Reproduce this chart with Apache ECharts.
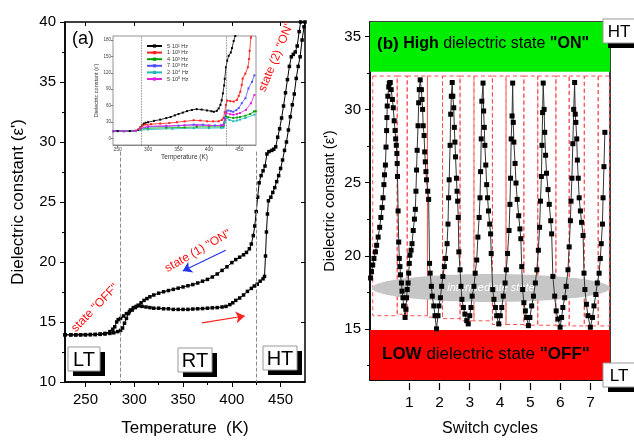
<!DOCTYPE html>
<html>
<head>
<meta charset="utf-8">
<script src="https://cdn.jsdelivr.net/npm/echarts@6/dist/echarts.min.js"></script>
<style>
  html, body { margin: 0; padding: 0; background: #fff; }
  #chart { width: 634px; height: 442px; }
</style>
</head>
<body>
<div id="chart"></div>
<script>
const FONT = 'Liberation Sans'

// (a) temperature sweep, heating and cooling
const heating = [[229, 13.93], [235, 13.93], [240, 13.93], [245, 13.93], [250, 13.93], [255, 13.95], [260, 13.95], [265, 13.97], [270, 14.0], [275, 14.05], [279, 14.1], [283, 14.2], [286, 14.3], [288, 14.5], [290, 14.9], [292, 15.3], [294, 15.7], [296, 16.0], [299, 16.2], [302, 16.3], [305, 16.35], [308, 16.3], [312, 16.25], [316, 16.2], [320, 16.15], [325, 16.15], [330, 16.1], [335, 16.1], [340, 16.05], [345, 16.05], [350, 16.05], [355, 16.05], [360, 16.08], [365, 16.1], [370, 16.12], [375, 16.15], [380, 16.18], [385, 16.2], [390, 16.25], [394, 16.3], [398, 16.45], [401, 16.6], [404, 16.8], [408, 17.0], [412, 17.25], [416, 17.55], [420, 17.8], [423, 18.0], [426, 18.15], [429, 18.4], [432, 18.6], [433.5, 18.8], [434.5, 20.5], [435.5, 22.5], [436.5, 24.0], [437.5, 25.1], [440, 25.4], [442, 25.8], [444, 26.2], [446, 26.7], [448, 27.2], [450, 27.8], [452, 28.5], [454, 29.3], [456, 30.0], [458, 31.0], [460, 32.1], [462, 33.1], [464, 34.0], [466, 35.3], [468, 36.3], [470, 37.1], [472, 38.5], [474, 39.6], [475, 40]]
const cooling = [[229, 13.93], [235, 13.93], [240, 13.93], [245, 13.94], [250, 13.95], [255, 13.95], [260, 13.97], [265, 14.0], [270, 14.05], [275, 14.2], [278, 14.4], [280, 14.6], [282, 15.0], [283.5, 15.2], [286, 15.3], [289, 15.5], [292, 15.7], [295, 15.85], [298, 16.0], [301, 16.2], [304, 16.4], [307, 16.6], [310, 16.8], [313, 16.95], [316, 17.1], [320, 17.25], [325, 17.4], [330, 17.52], [335, 17.62], [340, 17.72], [345, 17.82], [350, 17.92], [355, 18.02], [360, 18.12], [365, 18.25], [370, 18.4], [375, 18.55], [380, 18.75], [385, 19.0], [390, 19.3], [395, 19.6], [400, 19.95], [404, 20.2], [408, 20.4], [412, 20.6], [415, 20.8], [418, 21.1], [420, 21.5], [422, 22.2], [423.5, 23.0], [425, 24.2], [426.5, 25.4], [428, 26.6], [430, 27.2], [432, 27.6], [434, 28.0], [436, 29.0], [438, 29.2], [441, 29.3], [443, 29.4], [445, 29.6], [447, 30.4], [449, 31.1], [451, 32.0], [453, 33.0], [455, 34.1], [457, 35.2], [459, 36.3], [461, 37.1], [463, 37.3], [465, 37.5], [467, 38.0], [469, 39.2], [470.5, 40]]
const tempTicks = [250, 300, 350, 400, 450]
const tempMinor = [275, 325, 375, 425]
const phaseLines = [286, 425.5]

// inset: frequency dependence
const insetNames = ['5·10¹ Hz', '1·10³ Hz', '4·10³ Hz', '7·10³ Hz', '2·10⁴ Hz', '5·10⁵ Hz']
const insetColors = ['#000000', '#ff2020', '#00a000', '#5050ff', '#20b8b8', '#e020e0']
const inset1 = [[243, 13.8], [250, 13.8], [260, 13.8], [270, 13.9], [279, 14.2], [284, 16], [287, 19.7], [290, 24], [293, 27.5], [296, 29], [300, 30], [310, 32.5], [320, 34.7], [330, 37.5], [337, 39.5], [344, 42.5], [350, 44.9], [357, 47.5], [364, 50.2], [372, 52.3], [380, 53.8], [388, 53], [397, 51.4], [404, 50], [408, 49], [413, 50.8], [416, 55], [419, 61.6], [421, 70], [423, 82.5], [425, 97], [426, 109], [428, 130], [430, 142], [432.5, 151], [436, 157], [438, 165], [440.7, 178], [443.4, 187], [445, 195]]
const inset2 = [[243, 13.8], [260, 13.8], [279, 14.2], [284, 17], [287, 21], [291, 24], [295.5, 25.7], [305, 26.5], [320, 27.5], [335, 28.5], [347.5, 30], [360, 31.5], [375, 33.5], [386, 33], [397, 31.7], [407, 31.5], [416, 31.7], [421, 34], [424, 37.7], [426, 48], [428, 61.6], [430, 69.4], [435, 68.5], [440.7, 67.6], [446, 70.6], [449, 78], [451.6, 85.5], [454, 98], [455.5, 109.4], [459.9, 118.4], [464, 130], [466, 145], [467, 160], [469, 184], [470, 195]]
const inset3 = [[243, 13.8], [260, 13.8], [279, 14.1], [287, 17], [300, 19.1], [330, 19.8], [360, 20.5], [380, 21.5], [400, 21.5], [420, 21.5], [424, 22.7], [426, 30], [428, 40.7], [432, 39], [440, 37.7], [446, 38.5], [451, 39.5], [460, 41.9], [468, 45], [474, 49.6], [477, 50]]
const inset4 = [[243, 13.8], [260, 13.8], [279, 14.2], [287, 18], [300, 21.5], [330, 22.5], [350, 23.5], [375, 25.7], [390, 25.5], [410, 24], [420, 24.5], [424, 25.7], [426, 38], [428.6, 49.6], [432, 51.4], [436, 50], [440, 49], [445, 52], [449, 55.6], [454, 64.6], [460, 73.6], [465, 91.5], [470.8, 103.5], [474.7, 115.4]]
const inset5 = [[243, 13.8], [260, 13.8], [279, 14], [287, 15.5], [300, 16.7], [340, 18], [375, 19.1], [400, 19.1], [420, 19.7], [424, 20], [426, 30], [428.6, 37.7], [434, 34], [440, 31.7], [446, 33], [451, 34.7], [460, 37.7], [474.7, 43.7]]
const inset6 = [[243, 13.8], [260, 13.8], [279, 14.2], [287, 18.5], [300, 22.7], [330, 23.5], [360, 24.5], [380, 24.5], [400, 24], [420, 24], [424, 25], [426, 35], [428.6, 46.7], [435, 44.5], [440, 43.7], [446, 45], [451, 46.7], [461, 52.6], [469, 64.6], [474.7, 79.5]]
const insetYTicks = [0, 30, 60, 90, 120, 150, 180]
const insetLines = [289, 428.5]

// (b) switching cycles
const switchPoints = [
  [-0.28, 18.48], [-0.25, 18.92], [-0.21, 19.37], [-0.17, 19.82], [-0.12, 20.27], [-0.08, 20.72], [-0.03, 21.28], [0.02, 21.95], [0.06, 22.62], [0.10, 23.3], [0.13, 23.97], [0.16, 24.87], [0.18, 25.54], [0.21, 26.21], [0.23, 27.44], [0.25, 28.57], [0.26, 29.46], [0.27, 30.25], [0.29, 30.92], [0.32, 31.55], [0.34, 31.82], [0.37, 31.86],
  [0.40, 31.37], [0.44, 30.7], [0.47, 30.13], [0.50, 29.24], [0.53, 28.57], [0.55, 28.0], [0.57, 27.56], [0.59, 27.0], [0.60, 26.32], [0.61, 25.43], [0.63, 23.07], [0.65, 20.94], [0.67, 19.82], [0.69, 19.26], [0.71, 18.7], [0.74, 18.14], [0.76, 17.58], [0.79, 17.13], [0.81, 16.57], [0.86, 15.78],
  [0.89, 16.34], [0.91, 17.13], [0.93, 17.69], [0.96, 18.14], [0.98, 18.81], [1.00, 19.48], [1.02, 20.04], [1.06, 20.38], [1.09, 20.83], [1.13, 21.73], [1.17, 22.51], [1.20, 23.18], [1.22, 24.42], [1.24, 25.87], [1.26, 27.22], [1.29, 28.9], [1.31, 30.47], [1.33, 31.37], [1.36, 32.04],
  [1.40, 31.37], [1.42, 30.7], [1.44, 30.02], [1.46, 28.9], [1.49, 28.23], [1.51, 27.11], [1.53, 26.43], [1.55, 25.76], [1.57, 25.2], [1.61, 24.42], [1.64, 23.86], [1.67, 19.48], [1.69, 18.81], [1.73, 17.91], [1.76, 17.24], [1.81, 16.57], [1.85, 15.9], [1.90, 15.0],
  [1.95, 15.9], [1.98, 16.57], [2.03, 17.13], [2.07, 17.91], [2.11, 18.59], [2.16, 19.26], [2.20, 19.82], [2.25, 20.83], [2.28, 22.17], [2.30, 23.97], [2.32, 25.2], [2.35, 27.56], [2.37, 29.69], [2.39, 30.92], [2.42, 31.86],
  [2.44, 30.92], [2.47, 30.13], [2.49, 28.79], [2.51, 27.78], [2.53, 26.77], [2.56, 25.31], [2.58, 24.42], [2.60, 23.74], [2.62, 22.62], [2.64, 20.27], [2.68, 19.04], [2.71, 17.91], [2.74, 17.02], [2.79, 16.46], [2.84, 16.01], [2.90, 15.56], [2.95, 15.34],
  [3.00, 15.9], [3.04, 16.46], [3.08, 17.24], [3.14, 17.91], [3.18, 18.81], [3.23, 19.71], [3.27, 21.28], [3.31, 22.62], [3.34, 23.97], [3.36, 25.76], [3.38, 28.0], [3.40, 30.58], [3.44, 31.82],
  [3.46, 29.91], [3.48, 28.79], [3.50, 27.56], [3.53, 26.21], [3.56, 24.87], [3.59, 23.97], [3.62, 23.07], [3.66, 22.17], [3.69, 21.5], [3.71, 20.16], [3.76, 17.69], [3.80, 17.02], [3.85, 16.46], [3.89, 15.9], [3.96, 15.34],
  [4.01, 15.9], [4.06, 16.46], [4.11, 17.24], [4.17, 18.14], [4.21, 19.04], [4.25, 20.16], [4.30, 21.73], [4.33, 23.52], [4.35, 25.31], [4.37, 28.0], [4.40, 29.57], [4.42, 31.82],
  [4.44, 29.13], [4.46, 27.78], [4.50, 26.32], [4.53, 24.98], [4.57, 23.86], [4.62, 22.74], [4.66, 21.84], [4.69, 21.17], [4.72, 19.26], [4.75, 17.69], [4.79, 16.79], [4.84, 16.23], [4.88, 15.78], [4.94, 15.22],
  [4.99, 15.78], [5.05, 16.57], [5.11, 17.24], [5.17, 18.14], [5.22, 19.04], [5.27, 20.38], [5.31, 21.95], [5.34, 23.74], [5.37, 25.43], [5.39, 27.56], [5.41, 29.8], [5.43, 31.82],
  [5.46, 30.02], [5.48, 28.45], [5.51, 26.88], [5.54, 25.65], [5.59, 24.53], [5.63, 23.52], [5.68, 22.4], [5.71, 21.5], [5.75, 18.59], [5.81, 17.24], [5.86, 16.23], [5.92, 15.67], [5.99, 15.11],
  [6.04, 15.78], [6.08, 16.46], [6.14, 17.13], [6.19, 17.91], [6.25, 19.04], [6.29, 20.61], [6.33, 22.4], [6.35, 23.74], [6.38, 25.31], [6.41, 27.67], [6.44, 30.02], [6.47, 31.86],
  [6.49, 29.69], [6.51, 29.13], [6.54, 28.0], [6.56, 26.55], [6.59, 25.31], [6.62, 23.97], [6.66, 23.07], [6.70, 22.29], [6.75, 21.39], [6.78, 18.81], [6.81, 17.69], [6.86, 16.68], [6.91, 15.9], [6.99, 15.11],
  [7.06, 15.78], [7.11, 16.57], [7.17, 17.35], [7.22, 18.14], [7.28, 18.81], [7.32, 19.82], [7.35, 20.83], [7.39, 22.17], [7.41, 23.97], [7.44, 26.1], [7.47, 28.45]
]
const cycleTicks = [1, 2, 3, 4, 5, 6, 7]
const epsTicks = [15, 20, 25, 30, 35]
const epsMinor = [12.5, 17.5, 22.5, 27.5, 32.5]
const boxEdges = [-0.21, 0.60, 0.93, 1.60, 2.10, 2.68, 3.14, 3.75, 4.20, 4.79, 5.25, 5.85, 6.29, 6.79, 7.25, 7.62]
const boxBottoms = [15.9, 16.0, 15.9, 15.8, 15.7, 15.55, 15.55, 15.3, 15.3, 15.25, 15.25, 15.2, 15.2, 15.2, 15.2]
const boxTop = 32.3
const onBand = [32.6, 36]
const offBand = [11.5, 14.93]
const cycleRange = [-0.3, 7.64]

function labelBox(x, y, w, h, text, size) {
  return [
    {type: 'rect', shape: {x: x + 5, y: y + 5, width: w, height: h}, style: {fill: '#000'}, z: 10},
    {type: 'rect', shape: {x: x, y: y, width: w, height: h}, style: {fill: '#fff', stroke: '#999', lineWidth: 1}, z: 11},
    {type: 'text', x: x + w / 2, y: y + h / 2 + 1, style: {text: text, font: size + 'px ' + FONT, fill: '#000', align: 'center', verticalAlign: 'middle'}, z: 12}
  ]
}

function redNote(x, y, rot, text) {
  return {type: 'text', x: x, y: y, rotation: rot, style: {text: text, font: '12px ' + FONT, fill: '#ff1010', align: 'center', verticalAlign: 'middle'}, z: 12}
}

let axisBase = {
  type: 'value',
  splitLine: {show: false},
  axisLine: {show: true, onZero: false, lineStyle: {color: '#000', width: 1.5}},
  axisLabel: {color: '#000', fontFamily: FONT},
  nameTextStyle: {color: '#000', fontFamily: FONT}
}
function ax(o) {
  return echarts.util.merge(echarts.util.clone(axisBase), o, true)
}

let insetSeries = [inset1, inset2, inset3, inset4, inset5, inset6].map(function (d, i) {
  return {
    name: insetNames[i], type: 'line', xAxisIndex: 3, yAxisIndex: 2, data: d,
    symbol: 'rect', symbolSize: 2, showSymbol: true,
    lineStyle: {color: insetColors[i], width: 0.8},
    itemStyle: {color: insetColors[i]},
    z: 4
  }
})
insetSeries[0].markLine = {
  silent: true, symbol: 'none', label: {show: false},
  lineStyle: {color: '#666', type: 'dotted', width: 0.8},
  data: insetLines.map(function (t) { return [{coord: [t, -11.5]}, {coord: [t, 187]}] })
}

let boxData = []
for (let i = 0; i < boxEdges.length - 1; i++) {
  boxData.push([{coord: [boxEdges[i], boxTop]}, {coord: [boxEdges[i + 1], boxBottoms[i]]}])
}

let option = {
  animation: false,
  backgroundColor: '#fff',
  grid: [
    {left: 65, top: 22, width: 240, height: 363, show: true, borderColor: '#000', borderWidth: 1.5},
    {left: 113, top: 36, width: 143, height: 109, show: true, borderColor: '#777', borderWidth: 0.8, backgroundColor: '#fff', z: 3},
    {left: 370, top: 22, width: 240, height: 363, show: true, borderColor: '#000', borderWidth: 1.5}
  ],
  legend: {
    data: insetNames, left: 141, top: 38, orient: 'vertical', itemGap: 0.6,
    itemWidth: 15, itemHeight: 4, textStyle: {fontSize: 5.5, color: '#333', fontFamily: FONT},
    z: 5
  },
  xAxis: [
    ax({gridIndex: 0, min: 229, max: 475, position: 'bottom', name: 'Temperature  (K)', nameLocation: 'middle', nameGap: 38,
      nameTextStyle: {fontSize: 17},
      axisTick: {length: 5, customValues: tempTicks, lineStyle: {color: '#000'}},
      axisLabel: {fontSize: 15, margin: 10, customValues: tempTicks}}),
    ax({gridIndex: 0, min: 229, max: 475, position: 'bottom', axisLine: {show: false},
      axisTick: {length: 3, customValues: tempMinor, lineStyle: {color: '#000'}},
      axisLabel: {show: false}}),
    ax({gridIndex: 0, min: 229, max: 475, position: 'top', axisLine: {show: false},
      axisTick: {inside: true, length: 4, customValues: tempTicks, lineStyle: {color: '#000'}},
      axisLabel: {show: false}}),
    ax({gridIndex: 1, min: 242.4, max: 477.4, position: 'bottom', name: 'Temperature (K)', nameLocation: 'middle', nameGap: 9,
      nameTextStyle: {fontSize: 6.5, color: '#333'},
      axisLine: {lineStyle: {color: '#777', width: 0.8}},
      axisTick: {length: 2, customValues: tempTicks, lineStyle: {color: '#777'}},
      axisLabel: {fontSize: 5, margin: 2, color: '#444', customValues: tempTicks}}),
    ax({gridIndex: 2, min: cycleRange[0], max: cycleRange[1], position: 'bottom',
      axisTick: {inside: true, length: 7, customValues: cycleTicks, lineStyle: {color: '#000', width: 1.2}},
      axisLabel: {show: false}}),
    ax({gridIndex: 2, min: cycleRange[0], max: cycleRange[1], position: 'bottom', offset: 3, axisLine: {show: false},
      name: 'Switch cycles', nameLocation: 'middle', nameGap: 38,
      nameTextStyle: {fontSize: 16},
      axisTick: {length: 7, customValues: cycleTicks, lineStyle: {color: '#000', width: 1.2}},
      axisLabel: {fontSize: 15.5, margin: 12, customValues: cycleTicks}})
  ],
  yAxis: [
    ax({gridIndex: 0, min: 10, max: 40, interval: 5, position: 'left', name: 'Dielectric constant (\u03b5\')', nameLocation: 'middle', nameGap: 38,
      nameTextStyle: {fontSize: 17},
      axisTick: {length: 5, lineStyle: {color: '#000'}},
      minorTick: {show: true, splitNumber: 2, length: 3, lineStyle: {color: '#000'}},
      axisLabel: {fontSize: 15, margin: 9}}),
    ax({gridIndex: 0, min: 10, max: 40, interval: 5, position: 'right', axisLine: {show: false},
      axisTick: {inside: true, length: 4, lineStyle: {color: '#000'}},
      axisLabel: {show: false}}),
    ax({gridIndex: 1, min: -11.5, max: 187, position: 'left', name: 'Dielectric constant (\u03b5\')', nameLocation: 'middle', nameGap: 13,
      nameTextStyle: {fontSize: 5.5, color: '#333'},
      axisLine: {lineStyle: {color: '#777', width: 0.8}},
      axisTick: {length: 2, customValues: insetYTicks, lineStyle: {color: '#777'}},
      axisLabel: {fontSize: 4.5, margin: 2, color: '#444', customValues: insetYTicks}}),
    ax({gridIndex: 2, min: offBand[0], max: onBand[1], position: 'left', name: 'Dielectric constant (\u03b5\')', nameLocation: 'middle', nameGap: 33,
      nameTextStyle: {fontSize: 14.5},
      axisTick: {length: 5, customValues: epsTicks, lineStyle: {color: '#000'}},
      axisLabel: {fontSize: 15, margin: 9, customValues: epsTicks}}),
    ax({gridIndex: 2, min: offBand[0], max: onBand[1], position: 'left', axisLine: {show: false},
      axisTick: {length: 3, customValues: epsMinor, lineStyle: {color: '#000'}},
      axisLabel: {show: false}})
  ],
  series: [
    {
      name: 'heating', type: 'line', xAxisIndex: 0, yAxisIndex: 0, data: heating,
      symbol: 'rect', symbolSize: 3.5, lineStyle: {color: '#000', width: 1}, itemStyle: {color: '#000'}, z: 2,
      markLine: {
        silent: true, symbol: 'none', label: {show: false},
        lineStyle: {color: '#888', type: 'dashed', width: 1},
        data: phaseLines.map(function (t) { return [{coord: [t, 29.2]}, {coord: [t, 10]}] })
      }
    },
    {
      name: 'cooling', type: 'line', xAxisIndex: 0, yAxisIndex: 0, data: cooling,
      symbol: 'rect', symbolSize: 3.5, lineStyle: {color: '#000', width: 1}, itemStyle: {color: '#000'}, z: 2,
      markLine: {
        silent: true, symbol: ['none', 'arrow'], symbolSize: 9, label: {show: false},
        data: [
          [{coord: [393.7, 20.98], lineStyle: {color: '#2233ee', width: 1.2, type: 'solid'}}, {coord: [349.7, 19.25]}],
          [{coord: [369.3, 14.93], lineStyle: {color: '#ff2020', width: 1.2, type: 'solid'}}, {coord: [413.3, 15.5]}]
        ]
      }
    }
  ].concat(insetSeries).concat([
    {
      name: 'bands', type: 'line', xAxisIndex: 4, yAxisIndex: 3, data: [],
      markArea: {
        silent: true, z: 0.5, label: {show: false},
        data: [
          [{coord: [cycleRange[0], onBand[0]], itemStyle: {color: '#00ee00'}}, {coord: [cycleRange[1], onBand[1]]}],
          [{coord: [cycleRange[0], offBand[0]], itemStyle: {color: '#ff0000'}}, {coord: [cycleRange[1], offBand[1]]}]
        ]
      }
    },
    {
      name: 'boxes', type: 'line', xAxisIndex: 4, yAxisIndex: 3, data: [],
      markArea: {
        silent: true, z: 1, label: {show: false},
        itemStyle: {color: 'rgba(0,0,0,0)', borderColor: '#ff5050', borderWidth: 1, borderType: [4, 3]},
        data: boxData
      }
    },
    {
      name: 'switching', type: 'line', xAxisIndex: 4, yAxisIndex: 3, data: switchPoints,
      symbol: 'rect', symbolSize: 5, lineStyle: {color: '#333', width: 1}, itemStyle: {color: '#000'}, z: 4
    }
  ]),
  graphic: [
    {type: 'ellipse', shape: {cx: 491, cy: 288, rx: 119, ry: 14}, style: {fill: '#c6c6c6'}, z: 2},
    {type: 'text', x: 491, y: 288, style: {text: 'intermediate state', font: 'italic 11px ' + FONT, fill: '#fff', align: 'center', verticalAlign: 'middle'}, z: 3},
    {type: 'text', x: 377, y: 44, style: {
      text: '{p|(b)} {b|High} dielectric state {b|"ON"}', font: '16px ' + FONT, fill: '#000', verticalAlign: 'middle',
      rich: {p: {font: 'bold 17px ' + FONT}, b: {font: 'bold 16px ' + FONT}}
    }, z: 12},
    {type: 'text', x: 382, y: 354, style: {
      text: '{b|LOW} dielectric state {b|"OFF"}', font: '17px ' + FONT, fill: '#000', verticalAlign: 'middle',
      rich: {b: {font: 'bold 17px ' + FONT}}
    }, z: 12},
    {type: 'text', x: 72, y: 39, style: {text: '(a)', font: '18px ' + FONT, fill: '#000', verticalAlign: 'middle'}, z: 12},
    redNote(95, 308, 0.8, 'state "OFF"'),
    redNote(198, 251, 0.52, 'state (1) "ON"'),
    redNote(276, 57, 1.18, 'state (2) "ON"')
  ].concat(labelBox(68, 347, 32, 24, 'LT', 20))
    .concat(labelBox(178, 348, 34, 24, 'RT', 20))
    .concat(labelBox(263, 346, 34, 24, 'HT', 20))
    .concat(labelBox(603, 19, 32, 24, 'HT', 17))
    .concat(labelBox(603, 363, 32, 24, 'LT', 17))
}

let myChart = echarts.init(document.getElementById('chart'))
myChart.setOption(option)
</script>
</body>
</html>
